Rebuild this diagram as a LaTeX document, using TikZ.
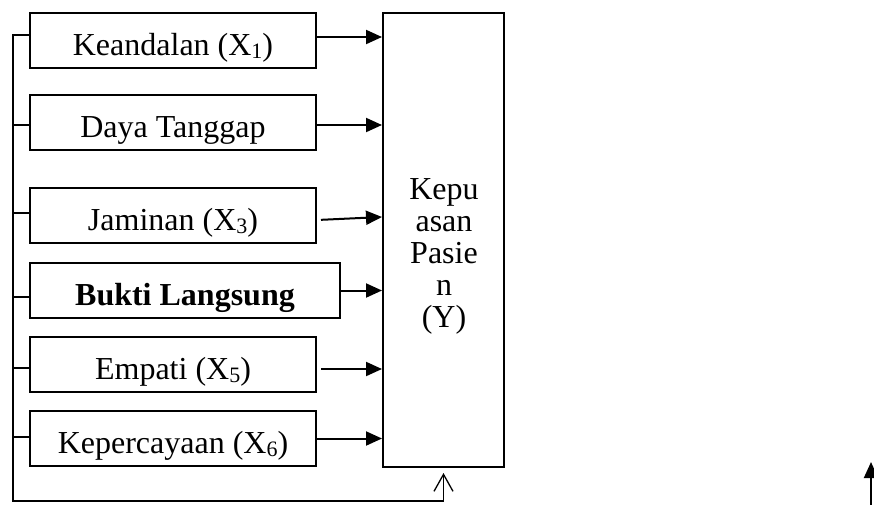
\documentclass[tikz,border=0pt]{standalone}
\usepackage{fontspec}
\setmainfont{Liberation Serif}
\usetikzlibrary{arrows.meta}
\newcommand{\subdig}[1]{\raisebox{-2.5pt}{\fontsize{22}{22}\selectfont #1}}
\begin{document}
\begin{tikzpicture}[x=1pt,y=-1pt,
  varbox/.style={draw,line width=2pt,inner sep=0pt,minimum width=286pt,minimum height=55pt,
    text height=30pt,text depth=0pt,font=\fontsize{32}{32}\selectfont},
  conn/.style={line width=2pt},
  arr/.style={conn,-{Triangle[length=16pt,width=14pt]}},
  openarr/.style={line width=1.3pt,-{Straight Barb[length=17pt,width=19pt,line width=1.3pt]}}]
\useasboundingbox (0,0) rectangle (874,504);
\node[varbox] (b1) at (173,40.5) {Keandalan (X\subdig{1})};
\node[varbox] (b2) at (173,122.5) {Daya Tanggap};
\node[varbox] (b3) at (173,215.5) {Jaminan (X\subdig{3})};
\node[varbox,minimum width=310pt] (b4) at (185,290.5) {\textbf{Bukti Langsung}};
\node[varbox] (b5) at (173,364.5) {Empati (X\subdig{5})};
\node[varbox] (b6) at (173,438.5) {Kepercayaan (X\subdig{6})};
\node[draw,line width=2pt,minimum width=121pt,minimum height=454pt,inner sep=0pt] (y) at (443.5,240) {};
\node[anchor=north,inner sep=0pt,align=center,font=\fontsize{32}{32}\selectfont] (ytext) at (444,178)
  {Kepu\\asan\\Pasie\\n\\(Y)};
% arrows into Y
\draw[arr] ([yshift=3.5pt]b1.east) -- ([yshift=3.5pt]b1.east -| y.west);
\draw[arr] ([yshift=-2.5pt]b2.east) -- ([yshift=-2.5pt]b2.east -| y.west);
\draw[arr,shorten <=4pt] ([yshift=-4.5pt]b3.east) -- ([yshift=-1.5pt]b3.east -| y.west);
\draw[arr] (b4.east) -- (b4.east -| y.west);
\draw[arr,shorten <=4pt] ([yshift=-4.5pt]b5.east) -- ([yshift=-4.5pt]b5.east -| y.west);
\draw[arr] (b6.east) -- (b6.east -| y.west);
% left bus
\coordinate (top) at (12.5,35);
\coordinate (corner) at (12.5,501);
\coordinate (feed) at (443.5,501);
\draw[conn] ([yshift=5.5pt]b1.west) -- (top) -- (corner) -- (feed);
\draw[conn] ([yshift=-2.5pt]b2.west) -- ([yshift=-2.5pt]b2.west -| top);
\draw[conn] ([yshift=2.5pt]b3.west) -- ([yshift=2.5pt]b3.west -| top);
\draw[conn] ([yshift=-6.5pt]b4.west) -- ([yshift=-6.5pt]b4.west -| top);
\draw[conn] ([yshift=-3.5pt]b5.west) -- ([yshift=-3.5pt]b5.west -| top);
\draw[conn] ([yshift=1.5pt]b6.west) -- ([yshift=1.5pt]b6.west -| top);
\draw[openarr] (feed) -- ([yshift=-5pt]y.south);
% lone arrow at right edge
\coordinate (r0) at (871,506);
\coordinate (r1) at (871,462);
\draw[arr] (r0) -- (r1);
\end{tikzpicture}
\end{document}
